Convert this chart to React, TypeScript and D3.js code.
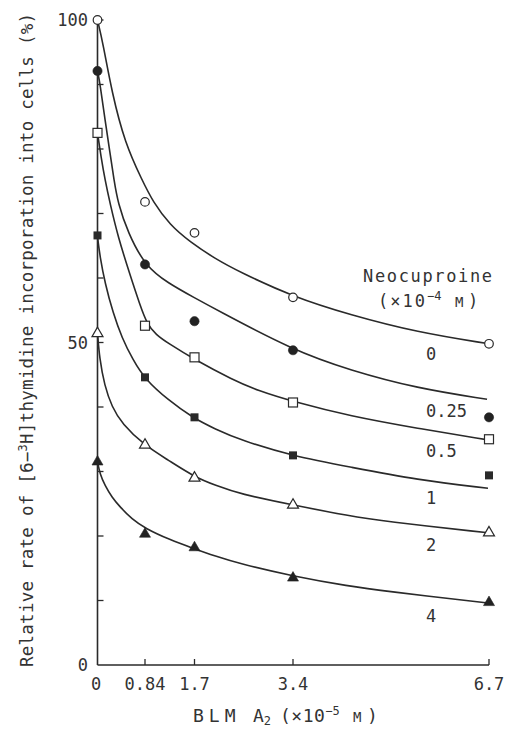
import React from 'react';
import * as d3 from 'd3';

// ---- data ----
const xValues = [0, 0.84, 1.7, 3.4, 6.7];
const xTickLabels = ['0', '0.84', '1.7', '3.4', '6.7'];
const yTickLabels = [0, 50, 100];
const yMinorTicks = [10, 20, 30, 40, 50, 60, 70, 80, 90, 100];

const seriesNames = ['0', '0.25', '0.5', '1', '2', '4'];
const seriesMarkers = ['openCircle', 'filledCircle', 'openSquare', 'filledSquare', 'openTriangle', 'filledTriangle'];

const values0 = [100, 71.8, 67.0, 57.0, 49.8];
const values025 = [92.1, 62.1, 53.3, 48.8, 38.4];
const values05 = [82.5, 52.6, 47.7, 40.7, 35.0];
const values1 = [66.6, 44.6, 38.4, 32.5, 29.4];
const values2 = [51.5, 34.2, 29.1, 24.9, 20.6];
const values4 = [31.6, 20.4, 18.3, 13.6, 9.8];

// fitted curves as drawn in the figure (x, value)
const curve0: [number, number][] = [[0, 100], [0.097, 96.4], [0.256, 88.7], [0.486, 80.9], [0.787, 75.2], [0.979, 71.8], [1.274, 68.2], [1.622, 65.6], [2.054, 63.0], [2.485, 60.9], [3.4, 57.1], [4.36, 54.3], [5.488, 51.6], [6.7, 49.8]];
const curve025: [number, number][] = [[0, 92.1], [0.044, 90.2], [0.133, 84.5], [0.221, 79.4], [0.292, 75.2], [0.362, 71.6], [0.539, 67.0], [0.84, 61.9], [1.24, 59.2], [1.709, 56.9], [2.054, 55.2], [3.4, 48.8], [4.36, 45.7], [5.488, 42.9], [6.667, 41.2]];
const curve05: [number, number][] = [[0, 82.5], [0.062, 78.8], [0.133, 75.2], [0.221, 71.6], [0.362, 66.4], [0.575, 60.5], [0.752, 55.8], [0.875, 52.9], [1.031, 51.2], [1.24, 49.9], [1.691, 47.4], [2.364, 44.2], [2.779, 42.6], [3.417, 40.8], [4.36, 38.6], [5.488, 36.7], [6.683, 34.9]];
const curve1: [number, number][] = [[0, 66.4], [0.044, 63.3], [0.133, 59.2], [0.274, 54.6], [0.433, 50.7], [0.627, 47.3], [0.84, 44.3], [1.24, 41.1], [1.674, 38.3], [2.054, 36.6], [2.485, 34.9], [3.4, 32.4], [4.36, 30.7], [5.488, 28.7], [6.683, 27.4]];
const curve2: [number, number][] = [[0, 51.5], [0.035, 47.6], [0.124, 43.3], [0.256, 40.0], [0.433, 37.4], [0.822, 34.1], [1.24, 31.8], [1.709, 29.1], [2.054, 27.9], [2.485, 26.5], [3.4, 24.8], [4.36, 23.1], [4.916, 22.3], [6.683, 20.5]];
const curve4: [number, number][] = [[0, 31.5], [0.044, 29.6], [0.133, 27.8], [0.256, 26.0], [0.398, 24.5], [0.61, 22.6], [0.84, 21.2], [1.274, 19.4], [1.674, 18.1], [2.054, 16.9], [2.485, 15.7], [3.383, 13.8], [4.36, 12.2], [4.916, 11.5], [6.683, 9.6]];

const seriesValues = [values0, values025, values05, values1, values2, values4];
const seriesCurves = [curve0, curve025, curve05, curve1, curve2, curve4];

const INK = '#2a2a2a';
const TEXT = '#333';
const MONO = '"DejaVu Sans Mono", "Liberation Mono", monospace';

function Marker({ kind, cx, cy }: { kind: string; cx: number; cy: number }) {
  const s = 11, h = s * 0.866;
  const tri = `${cx},${cy - h * 0.6} ${cx - s / 2},${cy + h * 0.4} ${cx + s / 2},${cy + h * 0.4}`;
  switch (kind) {
    case 'openCircle':
      return <circle cx={cx} cy={cy} r={4.3} fill="#fff" stroke={INK} strokeWidth={1.2} />;
    case 'filledCircle':
      return <circle cx={cx} cy={cy} r={4.6} fill="#222" stroke="#222" strokeWidth={0.6} />;
    case 'openSquare':
      return <rect x={cx - 4.5} y={cy - 4.5} width={9} height={9} fill="#fff" stroke={INK} strokeWidth={1.2} />;
    case 'filledSquare':
      return <rect x={cx - 4} y={cy - 4} width={8} height={8} fill="#2a2a2a" />;
    case 'openTriangle':
      return <polygon points={tri} fill="#fff" stroke={INK} strokeWidth={1.2} />;
    default:
      return <polygon points={tri} fill="#222" stroke="#222" strokeWidth={0.6} />;
  }
}

export default function App() {
  // the printed axis is slightly non-uniform; map each tick to where it is drawn
  const x = d3.scaleLinear().domain(xValues).range([97.5, 145, 194.5, 293, 489]);
  const y = d3.scaleLinear().domain([0, 100]).range([665, 20]);
  const line = d3.line<[number, number]>().x(d => x(d[0])).y(d => y(d[1])).curve(d3.curveBasis);

  const labelBaselines = [360, 417, 457, 504, 551, 622];

  return (
    <div style={{ position: 'absolute', left: 0, top: 0 }}>
      <svg width={507} height={731} viewBox="0 0 507 731" style={{ display: 'block', background: '#fff' }}>
        <rect x={0} y={0} width={507} height={731} fill="#fff" />
        {/* axes */}
        <line x1={x(0)} x2={x(0)} y1={y(0)} y2={y(100)} stroke={INK} strokeWidth={1.6} />
        <line x1={x(0)} x2={x(6.7)} y1={y(0)} y2={y(0)} stroke={INK} strokeWidth={1.6} />
        {yMinorTicks.map(t => (
          <line key={'yt' + t} x1={x(0)} x2={x(0) + 6} y1={y(t)} y2={y(t)} stroke={INK} strokeWidth={1.3} />
        ))}
        {xValues.slice(1).map(t => (
          <line key={'xt' + t} x1={x(t)} x2={x(t)} y1={y(0)} y2={y(0) - 6} stroke={INK} strokeWidth={1.3} />
        ))}
        {yTickLabels.map(t => (
          <text key={'yl' + t} x={88} y={y(t) + 6} textAnchor="end" fontFamily={MONO} fontSize={17} fill={TEXT}>{t}</text>
        ))}
        {xValues.map((t, i) => (
          <text key={'xl' + i} x={x(t) - (i === 0 ? 1.5 : 0)} y={690} textAnchor="middle" fontFamily={MONO} fontSize={17} fill={TEXT}>{xTickLabels[i]}</text>
        ))}

        {/* curves */}
        {seriesCurves.map((c, i) => (
          <path key={'c' + i} d={line(c) || ''} fill="none" stroke={INK} strokeWidth={1.6} />
        ))}
        {/* markers */}
        {seriesValues.map((vals, si) =>
          vals.map((v, i) => (
            <Marker key={`m${si}-${i}`} kind={seriesMarkers[si]} cx={x(xValues[i])} cy={y(v)} />
          ))
        )}
        {/* series labels */}
        {seriesNames.map((n, i) => (
          <text key={'sl' + i} x={426} y={labelBaselines[i]} fontFamily={MONO} fontSize={17} fill={TEXT}>{n}</text>
        ))}

        {/* legend title */}
        <text x={363} y={282} fontFamily={MONO} fontSize={17} fill={TEXT} textLength={129} lengthAdjust="spacing">Neocuproine</text>
        <text y={307} fontFamily={MONO} fontSize={17} fill={TEXT}>
          <tspan x={378} letterSpacing={2}>(×10</tspan>
          <tspan dy={-7} fontSize={12}>−4</tspan>
          <tspan x={455} dy={7} fontSize={14}>M</tspan>
          <tspan x={468}>)</tspan>
        </text>

        {/* x axis title */}
        <text y={722} fontFamily={MONO} fontSize={18} fill={TEXT}>
          <tspan x={193} letterSpacing={5}>BLM</tspan>
          <tspan x={253}>A</tspan>
          <tspan dy={3} fontSize={12}>2</tspan>
          <tspan x={280} dy={-3} letterSpacing={0.5}>(×10</tspan>
          <tspan dy={-7} fontSize={12}>−5</tspan>
          <tspan x={353} dy={7} fontSize={14}>M</tspan>
          <tspan x={367}>)</tspan>
        </text>

        {/* y axis title */}
        <text transform="translate(33,667) rotate(-90)" x={0} y={0} fontFamily={MONO} fontSize={17.5} fill={TEXT} textLength={654} lengthAdjust="spacing">
          Relative rate of [6−<tspan dy={-6} fontSize={12}>3</tspan><tspan dy={6}>H]thymidine incorporation into cells (%)</tspan>
        </text>
      </svg>
    </div>
  );
}
